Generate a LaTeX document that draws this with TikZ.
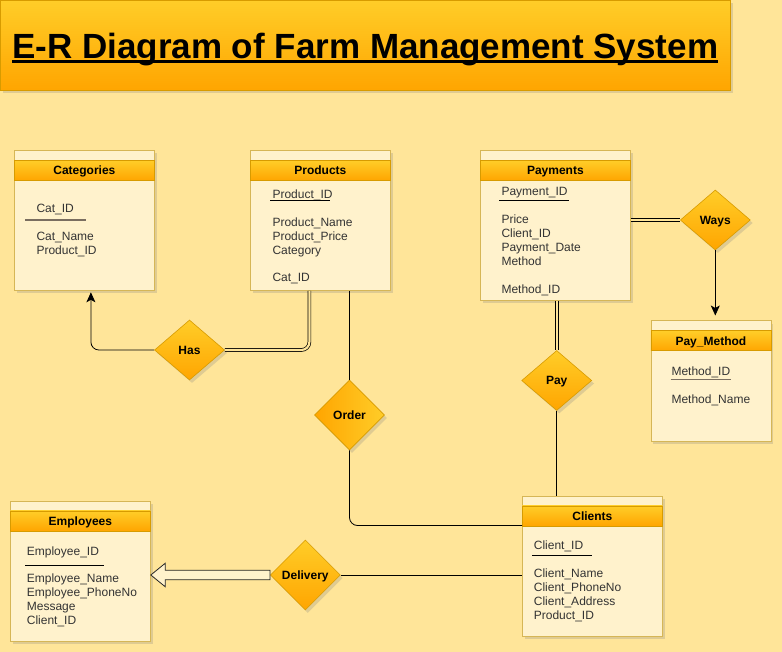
\documentclass[tikz,border=0pt]{standalone}
\usepackage{fontspec}
\setmainfont{Liberation Sans}
\usetikzlibrary{shapes.geometric,shadows,calc,arrows.meta}
\definecolor{bgc}{HTML}{FFE599}
\definecolor{bodyc}{HTML}{FFF2CC}
\definecolor{bodyd}{HTML}{D6B656}
\definecolor{ora}{HTML}{FFA500}
\definecolor{yel}{HTML}{FFCD28}
\definecolor{orad}{HTML}{D79B00}
\definecolor{txt}{HTML}{333333}
\definecolor{pkgray}{HTML}{7A6E60}
\begin{document}
\begin{tikzpicture}[x=1pt,y=-1pt,
 dshadow/.style={drop shadow={opacity=0.25,shadow xshift=2.5pt,shadow yshift=-3pt}},
 tbl/.style={draw=bodyd,fill=bodyc,line width=0.8pt,anchor=north west,inner sep=0,dshadow},
 hdr/.style={draw=orad,top color=yel,bottom color=ora,line width=0.8pt,anchor=north west,inner sep=0,minimum height=20,font=\fontsize{12}{14}\selectfont\bfseries,text height=8.6pt,text depth=0pt},
 attr/.style={anchor=base west,inner sep=0,font=\fontsize{12}{14}\selectfont,text=txt},
 rel/.style={diamond,draw=orad,line width=0.6pt,inner sep=0,minimum width=70,minimum height=60,font=\fontsize{12}{14}\selectfont\bfseries,text height=8.6pt,text depth=0pt,dshadow,top color=yel,bottom color=ora},
 conn/.style={draw=black,line width=0.8pt,rounded corners=8pt},
 dbl/.style={draw=black,double=bgc,double distance=2.2pt,line width=0.7pt,rounded corners=8pt},
 arr/.style={conn,-{Stealth[length=10pt,width=9pt,inset=2.5pt]}},
 pkb/.style={draw=black,line width=0.9pt},
 pkg/.style={draw=pkgray,line width=1.4pt}
]
\useasboundingbox (0,0) rectangle (782,652);
\fill[bgc] (0,0) rectangle (782,652);

% title
\node[draw=orad,top color=yel,bottom color=ora,anchor=north west,minimum width=730,minimum height=90,inner sep=0,line width=0.8pt,dshadow] (tbox) at (0,0) {};
\node[anchor=base west,inner sep=0,font=\fontsize{35}{40}\selectfont\bfseries] (title) at (12,58.3) {E-R Diagram of Farm Management System};
\draw[line width=2.6pt] ([yshift=-3pt]title.base west) -- ([yshift=-3pt]title.base east);

% Categories
\node[tbl,minimum width=140,minimum height=140] (cat) at (14,150) {};
\node[hdr,minimum width=140] (cath) at (14,160) {Categories};
\node[attr] (c1) at (36.3,212.5) {Cat\_ID};
\draw[pkg] (25,220) -- (86,220);
\node[attr] (c2) at (36.3,240.5) {Cat\_Name};
\node[attr] (c3) at (36.3,254.5) {Product\_ID};

% Products
\node[tbl,minimum width=140,minimum height=140] (prod) at (250,150) {};
\node[hdr,minimum width=140] (prodh) at (250,160) {Products};
\node[attr] (p1) at (272.3,198.3) {Product\_ID};
\draw[pkb] (270,200.5) -- (330,200.5);
\node[attr] (p2) at (272.3,226.3) {Product\_Name};
\node[attr] (p3) at (272.3,240.3) {Product\_Price};
\node[attr] (p4) at (272.3,254.3) {Category};
\node[attr] (p5) at (272.3,281.8) {Cat\_ID};

% Payments
\node[tbl,minimum width=150,minimum height=150] (pays) at (480,150) {};
\node[hdr,minimum width=150] (paysh) at (480,160) {Payments};
\node[attr] (y1) at (501.3,195.3) {Payment\_ID};
\draw[pkb] (499.3,200.3) -- (569.3,200.3);
\node[attr] (y2) at (501.3,223.3) {Price};
\node[attr] (y3) at (501.3,237.3) {Client\_ID};
\node[attr] (y4) at (501.3,251.3) {Payment\_Date};
\node[attr] (y5) at (501.3,265.3) {Method};
\node[attr] (y6) at (501.3,293.3) {Method\_ID};

% Pay_Method
\node[tbl,minimum width=120,minimum height=120] (pm) at (650.5,320.5) {};
\node[hdr,minimum width=120] (pmh) at (650.5,330.5) {Pay\_Method};
\node[attr] (m1) at (671.3,375.3) {Method\_ID};
\draw[pkg] (670.7,379.5) -- (730.7,379.5);
\node[attr] (m2) at (671.3,403.3) {Method\_Name};

% Employees
\node[tbl,minimum width=140,minimum height=140] (emp) at (10,500.5) {};
\node[hdr,minimum width=140] (emph) at (10,510.5) {Employees};
\node[attr] (e1) at (26.7,555) {Employee\_ID};
\draw[pkb] (25,565.7) -- (104.3,565.7);
\node[attr] (e2) at (26.7,582.7) {Employee\_Name};
\node[attr] (e3) at (26.7,596.7) {Employee\_PhoneNo};
\node[attr] (e4) at (26.7,610.7) {Message};
\node[attr] (e5) at (26.7,624.5) {Client\_ID};

% Clients
\node[tbl,minimum width=140,minimum height=140] (cli) at (522,495.5) {};
\node[hdr,minimum width=140] (clih) at (522,505.5) {Clients};
\node[attr] (k1) at (533.7,549.3) {Client\_ID};
\draw[pkb] (532.3,555.3) -- (591.7,555.3);
\node[attr] (k2) at (533.7,577.3) {Client\_Name};
\node[attr] (k3) at (533.7,591.5) {Client\_PhoneNo};
\node[attr] (k4) at (533.7,605.3) {Client\_Address};
\node[attr] (k5) at (533.7,619.3) {Product\_ID};

% relationship diamonds
\node[rel] (has) at (189.5,350) {Has};
\node[rel,minimum height=70,left color=ora,right color=yel] (order) at (349.5,415) {Order};
\node[rel] (ways) at (715.3,220) {Ways};
\node[rel] (payr) at (556.7,380.5) {Pay};
\node[rel,minimum height=70] (deliv) at (305.3,575) {Delivery};

% connectors
\coordinate (catin) at ($(cat.south)+(6.5,0)$);
\draw[arr,shorten >=1.5pt] (has.west) -| (catin);
\coordinate (prodin) at ($(prod.south)+(-11,0)$);
\draw[dbl] (has.east) -| (prodin);
\draw[conn] (prod.south -| order.north) -- (order.north);
\coordinate (cliin) at ($(cli.north west)+(0,30)$);
\draw[conn] (order.south) |- (cliin);
\draw[conn] (deliv.east) -- (deliv.east -| cli.west);
\draw[dbl] (ways.west -| pays.east) -- (ways.west);
\draw[arr,shorten >=5pt] (ways.south) -- (ways.south |- pm.north);
\draw[dbl] (payr.north |- pays.south) -- (payr.north);
\draw[conn] (payr.south) -- (payr.south |- cli.north);

% hollow arrow Delivery -> Employees
\coordinate (de) at (deliv.west);
\coordinate (ee) at (emp.east |- de);
\draw[fill=bodyc,draw=black!85,line width=0.8pt,line join=miter]
  ($(de)+(0,-4.7)$) -- ($(ee)+(14.5,-4.7)$) -- ($(ee)+(14.5,-11.8)$) -- (ee)
  -- ($(ee)+(14.5,11.8)$) -- ($(ee)+(14.5,4.7)$) -- ($(de)+(0,4.7)$) -- cycle;
\end{tikzpicture}
\end{document}
